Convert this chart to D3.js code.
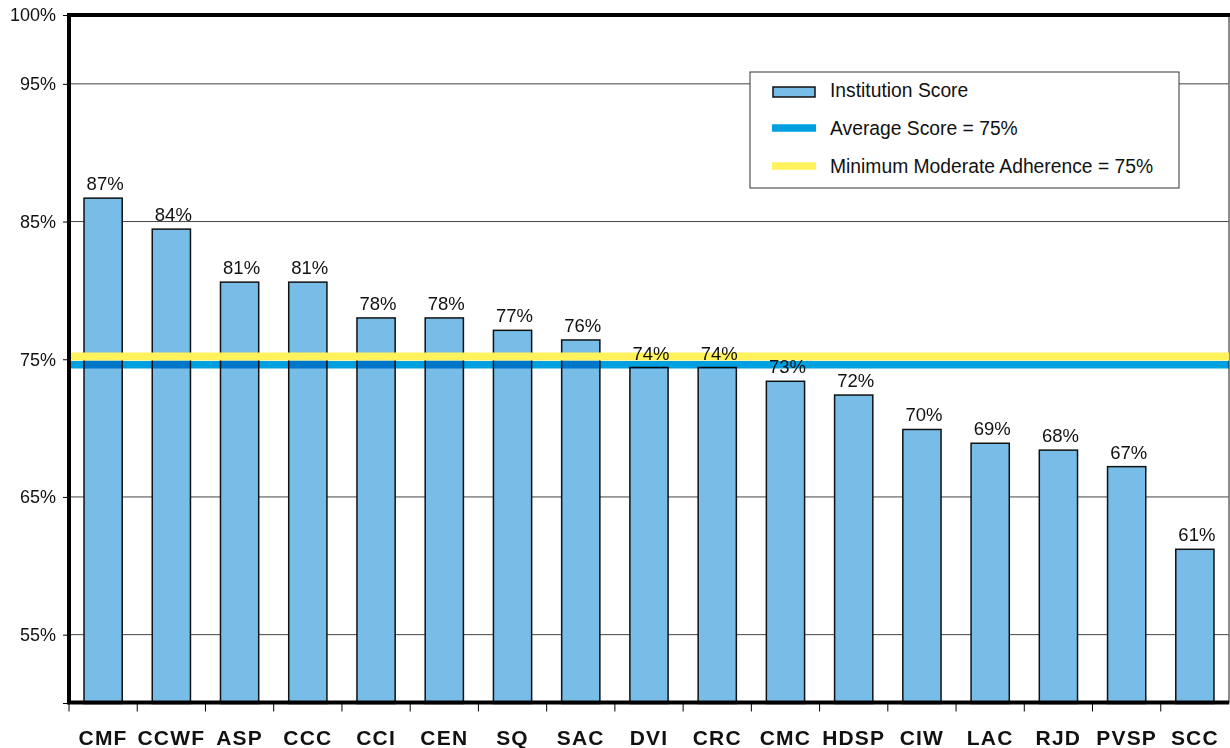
<!DOCTYPE html>
<html>
<head>
<meta charset="utf-8">
<style>
  body { margin: 0; background: #fff; }
  text { font-family: Arial, "Liberation Sans", sans-serif; }
</style>
</head>
<body>
<div id="chart"></div>
<script src="https://d3js.org/d3.v7.min.js"></script>
<script>

var institutions = ["CMF", "CCWF", "ASP", "CCC", "CCI", "CEN", "SQ", "SAC", "DVI", "CRC", "CMC", "HDSP", "CIW", "LAC", "RJD", "PVSP", "SCC"];
var scores = [86.7, 84.45, 80.6, 80.6, 78.0, 78.0, 77.1, 76.4, 74.4, 74.4, 73.4, 72.4, 69.9, 68.9, 68.4, 67.2, 61.2];
var averageScore = 74.6;
var minimumAdherence = 75.2;
var yTicks = [55, 65, 75, 85, 95, 100];
var gridTicks = [55, 65, 75, 85, 95];
var legendLabels = ["Institution Score", "Average Score = 75%", "Minimum Moderate Adherence = 75%"];

var width = 1230,
    height = 748;
var plotLeft = 69, plotRight = 1229, plotTop = 15, plotBottom = 703.5;

var barFill = "#77bde8",
    avgColor = "#009fe0",
    minColor = "#fff25c";

var svg = d3.select("#chart")
  .append("svg")
    .attr("width", width)
    .attr("height", height);

var x = d3.scaleBand()
    .domain(institutions)
    .range([plotLeft, plotRight])
    .paddingInner(0.44)
    .paddingOuter(0.22);

var y = d3.scaleLinear()
    .domain([50, 100])
    .range([plotBottom, plotTop]);

// gridlines
svg.append("g")
  .selectAll("line")
    .data(gridTicks)
  .enter().append("line")
    .attr("x1", plotLeft)
    .attr("x2", plotRight)
    .attr("y1", d => y(d))
    .attr("y2", d => y(d))
    .attr("stroke", "#444")
    .attr("stroke-width", 1);

// right border
svg.append("line")
    .attr("x1", plotRight).attr("x2", plotRight)
    .attr("y1", plotTop).attr("y2", plotBottom)
    .attr("stroke", "#666")
    .attr("stroke-width", 1.5);

// bars
svg.append("g")
  .selectAll("rect")
    .data(scores)
  .enter().append("rect")
    .attr("x", (d, i) => x(institutions[i]))
    .attr("y", d => y(d))
    .attr("width", x.bandwidth())
    .attr("height", d => plotBottom - y(d))
    .attr("fill", barFill)
    .attr("stroke", "#111")
    .attr("stroke-width", 1.5);

// average + minimum lines
svg.append("line")
    .attr("x1", plotLeft).attr("x2", plotRight)
    .attr("y1", y(averageScore)).attr("y2", y(averageScore))
    .attr("stroke", avgColor)
    .attr("stroke-width", 7.5)
    .style("mix-blend-mode", "multiply");

svg.append("line")
    .attr("x1", plotLeft).attr("x2", plotRight)
    .attr("y1", y(minimumAdherence)).attr("y2", y(minimumAdherence))
    .attr("stroke", minColor)
    .attr("stroke-width", 8);

// value labels
svg.append("g")
  .selectAll("text")
    .data(scores)
  .enter().append("text")
    .attr("x", (d, i) => x(institutions[i]) + x.bandwidth() / 2 + 2)
    .attr("y", d => y(d) - 8)
    .attr("text-anchor", "middle")
    .attr("font-size", 18.5)
    .attr("fill", "#111")
    .text(d => Math.round(d) + "%");

// y axis
var yAxis = d3.axisLeft(y)
    .tickValues(yTicks)
    .tickSize(6)
    .tickFormat(d => d + "%");

var gy = svg.append("g")
    .attr("transform", "translate(" + plotLeft + ",0)")
    .call(yAxis);
gy.select(".domain").remove();
gy.selectAll(".tick line").attr("stroke", "#000");
gy.selectAll(".tick text")
    .attr("x", -13)
    .attr("font-size", 18)
    .attr("font-family", "Arial, 'Liberation Sans', sans-serif")
    .attr("fill", "#111");

// x axis ticks at band boundaries
var boundaries = institutions.map(d => x(d) - x.step() * x.paddingInner() / 2);
svg.append("g")
  .selectAll("line")
    .data(boundaries)
  .enter().append("line")
    .attr("x1", d => d).attr("x2", d => d)
    .attr("y1", plotBottom).attr("y2", plotBottom + 8)
    .attr("stroke", "#000")
    .attr("stroke-width", 1);

svg.append("line")
    .attr("x1", plotLeft - 6).attr("x2", plotLeft)
    .attr("y1", plotBottom).attr("y2", plotBottom)
    .attr("stroke", "#000");

svg.append("g")
  .selectAll("text")
    .data(institutions)
  .enter().append("text")
    .attr("x", d => x(d) + x.bandwidth() / 2)
    .attr("y", 745)
    .attr("text-anchor", "middle")
    .attr("font-size", 21)
    .attr("font-weight", "bold")
    .attr("letter-spacing", 1.2)
    .attr("fill", "#111")
    .text(d => d);

// thick frame: top, left, bottom
svg.append("path")
    .attr("d", "M" + (width + 2) + "," + plotTop + "H" + plotLeft + "V" + (plotBottom - 1) + "H" + plotRight)
    .attr("fill", "none")
    .attr("stroke", "#000")
    .attr("stroke-width", 4);

// legend
var legend = svg.append("g")
    .attr("transform", "translate(750,72)");

legend.append("rect")
    .attr("width", 429)
    .attr("height", 116)
    .attr("fill", "#fff")
    .attr("stroke", "#333")
    .attr("stroke-width", 1);

var rowY = [18, 56, 94];

legend.append("rect")
    .attr("x", 23).attr("y", rowY[0] - 3)
    .attr("width", 42).attr("height", 10)
    .attr("fill", barFill)
    .attr("stroke", "#111")
    .attr("stroke-width", 1.5);

legend.append("line")
    .attr("x1", 22).attr("x2", 66)
    .attr("y1", rowY[1]).attr("y2", rowY[1])
    .attr("stroke", avgColor)
    .attr("stroke-width", 7.5);

legend.append("line")
    .attr("x1", 22).attr("x2", 66)
    .attr("y1", rowY[2]).attr("y2", rowY[2])
    .attr("stroke", minColor)
    .attr("stroke-width", 7.5);

legend.selectAll("text.lbl")
    .data(legendLabels)
  .enter().append("text")
    .attr("class", "lbl")
    .attr("x", 80)
    .attr("y", (d, i) => rowY[i])
    .attr("dy", "0.35em")
    .attr("font-size", 19.3)
    .attr("fill", "#111")
    .text(d => d);

</script>
</body>
</html>
